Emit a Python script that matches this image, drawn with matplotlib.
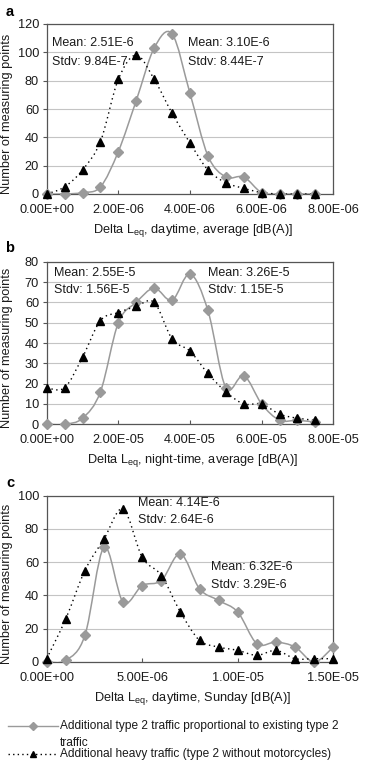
import numpy as np
import matplotlib
matplotlib.use("Agg")
import matplotlib.pyplot as plt
from matplotlib.path import Path
from matplotlib.patches import PathPatch
from matplotlib.lines import Line2D
from matplotlib.ticker import FuncFormatter, MultipleLocator

plt.rcParams['font.family'] = ['Liberation Sans', 'DejaVu Sans']
plt.rcParams['mathtext.fontset'] = 'custom'
plt.rcParams['mathtext.rm'] = 'Liberation Sans'

# ---------------- data ----------------
x_a = [0, 0.5e-6, 1.0e-6, 1.5e-6, 2.0e-6, 2.5e-6, 3.0e-6, 3.5e-6, 4.0e-6, 4.5e-6,
       5.0e-6, 5.5e-6, 6.0e-6, 6.5e-6, 7.0e-6, 7.5e-6]
prop_a = [0, 0, 1, 5, 30, 66, 103, 113, 71, 27, 12, 12, 1, 0, 0, 0]
heavy_a = [0, 5, 17, 37, 81, 98, 81, 57, 36, 17, 8, 4, 1, 0, 0, 0]

x_b = [0, 0.5e-5, 1.0e-5, 1.5e-5, 2.0e-5, 2.5e-5, 3.0e-5, 3.5e-5, 4.0e-5, 4.5e-5,
       5.0e-5, 5.5e-5, 6.0e-5, 6.5e-5, 7.0e-5, 7.5e-5]
prop_b = [0, 0, 3, 16, 50, 60, 67, 61, 74, 56, 18, 24, 10, 2, 2, 1]
heavy_b = [18, 18, 33, 51, 55, 58, 60, 42, 36, 25, 16, 10, 10, 5, 3, 2]

x_c = [0, 1e-6, 2e-6, 3e-6, 4e-6, 5e-6, 6e-6, 7e-6, 8e-6, 9e-6,
       10e-6, 11e-6, 12e-6, 13e-6, 14e-6, 15e-6]
prop_c = [0, 1, 16, 69, 36, 46, 49, 65, 44, 37, 30, 11, 12, 9, 0, 9]
heavy_c = [2, 26, 55, 74, 92, 63, 52, 30, 13, 9, 7, 4, 7, 2, 2, 2]

xlabels = [r"Delta L$_{\mathregular{eq}}$, daytime, average [dB(A)]",
           r"Delta L$_{\mathregular{eq}}$, night-time, average [dB(A)]",
           r"Delta L$_{\mathregular{eq}}$, daytime, Sunday [dB(A)]"]
legend_lines = ["Additional type 2 traffic proportional to existing type 2", "traffic",
                "Additional heavy traffic (type 2 without motorcycles)"]

GRAY = '#9a9a9a'
TXT = '#1a1a1a'
FS = 9.2

def smooth_path(x, y):
    x = np.asarray(x, float); y = np.asarray(y, float)
    pts = np.column_stack([x, y])
    n = len(pts)
    verts = [pts[0]]
    codes = [Path.MOVETO]
    for i in range(n - 1):
        p0 = pts[i - 1] if i > 0 else pts[i]
        p1 = pts[i]
        p2 = pts[i + 1]
        p3 = pts[i + 2] if i + 2 < n else pts[i + 1]
        c1 = p1 + (p2 - p0) / 6.0
        c2 = p2 - (p3 - p1) / 6.0
        verts += [c1, c2, p2]
        codes += [Path.CURVE4] * 3
    return Path(verts, codes)

fig = plt.figure(figsize=(3.67, 7.67), dpi=100)
W, H = 367, 767
L, R = 46.7, 333.3
panels = [
    dict(top=24, bot=194, x=x_a, p=prop_a, h=heavy_a, xmax=8e-6, xstep=2e-6, ymax=120, ystep=20,
         letter='a', ly=12,
         texts=[(0.019, 0.888, "Mean: 2.51E-6"), (0.019, 0.776, "Stdv: 9.84E-7"),
                (0.493, 0.888, "Mean: 3.10E-6"), (0.493, 0.776, "Stdv: 8.44E-7")]),
    dict(top=261.7, bot=424.3, x=x_b, p=prop_b, h=heavy_b, xmax=8e-5, xstep=2e-5, ymax=80, ystep=10,
         letter='b', ly=248,
         texts=[(0.025, 0.928, "Mean: 2.55E-5"), (0.025, 0.825, "Stdv: 1.56E-5"),
                (0.563, 0.928, "Mean: 3.26E-5"), (0.563, 0.825, "Stdv: 1.15E-5")]),
    dict(top=495.7, bot=662, x=x_c, p=prop_c, h=heavy_c, xmax=1.5e-5, xstep=5e-6, ymax=100, ystep=20,
         letter='c', ly=483,
         texts=[(0.318, 0.958, "Mean: 4.14E-6"), (0.318, 0.852, "Stdv: 2.64E-6"),
                (0.573, 0.569, "Mean: 6.32E-6"), (0.573, 0.463, "Stdv: 3.29E-6")]),
]

fmt = FuncFormatter(lambda v, pos: "%.2E" % v)

for i, P in enumerate(panels):
    ax = fig.add_axes([L / W, 1 - P['bot'] / H, (R - L) / W, (P['bot'] - P['top']) / H])
    ax.set_xlim(0, P['xmax'])
    ax.set_ylim(0, P['ymax'])
    ax.xaxis.set_major_locator(MultipleLocator(P['xstep']))
    ax.yaxis.set_major_locator(MultipleLocator(P['ystep']))
    ax.xaxis.set_major_formatter(fmt)
    ax.grid(axis='y', color='#c4c4c4', lw=0.8)
    ax.set_axisbelow(True)
    for s in ax.spines.values():
        s.set_color('#555555'); s.set_linewidth(0.9)
    ax.tick_params(axis='x', direction='in', length=3, pad=7, labelsize=FS, colors='#555555', labelcolor=TXT)
    ax.tick_params(axis='y', direction='out', length=3, pad=2.5, labelsize=FS, colors='#555555', labelcolor=TXT)

    ax.add_patch(PathPatch(smooth_path(P['x'], P['p']), fill=False, edgecolor=GRAY, lw=1.1, zorder=3))
    ax.add_patch(PathPatch(smooth_path(P['x'], P['h']), fill=False, edgecolor='black', lw=1.0,
                           linestyle=(0, (1, 2.5)), zorder=3))
    ax.plot(P['x'], P['p'], linestyle='none', marker='D', ms=5, color=GRAY, mec=GRAY, zorder=4, clip_on=False)
    ax.plot(P['x'], P['h'], linestyle='none', marker='^', ms=5.8, color='black', zorder=5, clip_on=False)

    for tx, ty, s in P['texts']:
        ax.text(tx, ty, s, transform=ax.transAxes, fontsize=9, color=TXT, va='center', ha='left', zorder=6)

    ax.set_ylabel("Number of measuring points", fontsize=FS, color=TXT)
    ax.yaxis.set_label_coords(-0.118, 0.47)
    ax.set_xlabel(xlabels[i], fontsize=FS, color=TXT)
    ax.xaxis.set_label_coords(0.51, -28 / (P['bot'] - P['top']))
    ax.xaxis.label.set_va('top')

    fig.text(10 / W, 1 - P['ly'] / H, P['letter'], fontsize=10.5, fontweight='bold', ha='center', va='center')

# legend drawn in figure coordinates
def fy(py):
    return 1 - py / H

leg_y = [726, 753.5]
styles = [dict(color=GRAY, lw=1.0, marker='D', ms=3.8, mec=GRAY),
          dict(color='black', lw=1.0, linestyle=(0, (1, 2.3)), marker='^', ms=4.8)]
for yy, st in zip(leg_y, styles):
    fig.add_artist(Line2D([8 / W, 33 / W, 58 / W], [fy(yy)] * 3, transform=fig.transFigure,
                          markevery=[1], **st))
for txt, yy in zip(legend_lines, [726, 742.5, 753.5]):
    fig.text(60 / W, fy(yy), txt, fontsize=8.6, color=TXT, ha='left', va='center')

fig.savefig('out.png', dpi=100)
